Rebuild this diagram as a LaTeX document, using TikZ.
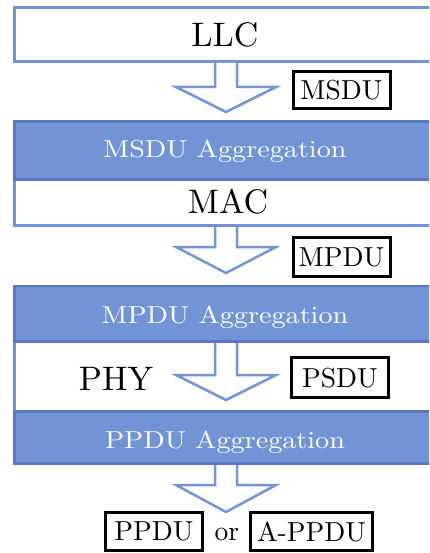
\documentclass[tikz,border=0pt]{standalone}
\usepackage{fontspec}
\setmainfont{lmroman10-regular}[Extension=.otf]
\definecolor{bandfill}{RGB}{114,148,214}
\definecolor{bandedge}{RGB}{90,120,192}
\definecolor{layeredge}{RGB}{112,146,218}
\definecolor{arrowedge}{RGB}{115,150,216}
\tikzset{
  layer/.style={draw=layeredge, line width=3pt, fill=white},
  band/.style={draw=bandedge, line width=2.5pt, fill=bandfill},
  bigtext/.style={font=\fontsize{34}{40}\selectfont, inner sep=0pt, anchor=base},
  aggtext/.style={text=white, font=\fontsize{24.5}{30}\selectfont, inner sep=0pt, anchor=base},
  pdu/.style={draw=black, line width=3pt, fill=white, font=\fontsize{27.5}{30}\selectfont,
              inner sep=0pt, text depth=0pt, outer sep=0pt},
  blockarrow/.style={draw=arrowedge, line width=2.5pt, fill=white, line join=miter},
}
\newcommand{\wideagg}[1]{\scalebox{1.15}[1]{#1}}
\begin{document}
\begin{tikzpicture}[x=1pt,y=-1pt]
\useasboundingbox (0,0) rectangle (429,553);
\clip (0,0) rectangle (429,553);
% ---- layers ----
\draw[layer] (14.5,7.5) rectangle (445,61.5);
\draw[layer] (14.5,121.5) rectangle (445,225.5);
\draw[band]  (14.5,121.5) rectangle (445,179.5);
\draw[layer] (14.5,286) rectangle (445,463.5);
\draw[band]  (14.5,286) rectangle (445,341.5);
\draw[band]  (14.5,411.5) rectangle (445,463.5);
% ---- block arrows ----
\draw[blockarrow] (215,63) -- (215,87) -- (176,87) -- (226,112) -- (276,87) -- (237,87) -- (237,63);
\draw[blockarrow] (215,227) -- (215,247) -- (176,247) -- (226,273) -- (276,247) -- (237,247) -- (237,227);
\draw[blockarrow] (215,343) -- (215,375) -- (176,375) -- (226,400) -- (276,375) -- (237,375) -- (237,343);
\draw[blockarrow] (215,465) -- (215,485) -- (176,485) -- (226,512) -- (276,485) -- (237,485) -- (237,465);
% ---- texts ----
\node[bigtext] (llc) at (225,47) {LLC};
\node[aggtext] (msduagg) at (225,158) {\wideagg{MSDU Aggregation}};
\node[bigtext] (mac) at (228,213) {MAC};
\node[aggtext] (mpduagg) at (225,323) {\wideagg{MPDU Aggregation}};
\node[bigtext] (phy) at (116,390) {PHY};
\node[aggtext] (ppduagg) at (225,448) {\wideagg{PPDU Aggregation}};
% ---- PDU boxes ----
\node[pdu, minimum width=97pt, minimum height=37pt] (msdu) at (341.5,90) {MSDU};
\node[pdu, minimum width=97pt, minimum height=39pt] (mpdu) at (341.5,257) {MPDU};
\node[pdu, minimum width=97pt, minimum height=40pt] (psdu) at (340,377.5) {PSDU};
\node[pdu, minimum width=97pt, minimum height=38pt] (ppdu) at (154,531.5) {PPDU};
\node[pdu, minimum width=122pt, minimum height=38pt] (appdu) at (311.5,531.5) {A-PPDU};
\node[font=\fontsize{27.5}{30}\selectfont, inner sep=0pt, anchor=base] (or) at (227,540.5) {or};
\end{tikzpicture}
\end{document}
